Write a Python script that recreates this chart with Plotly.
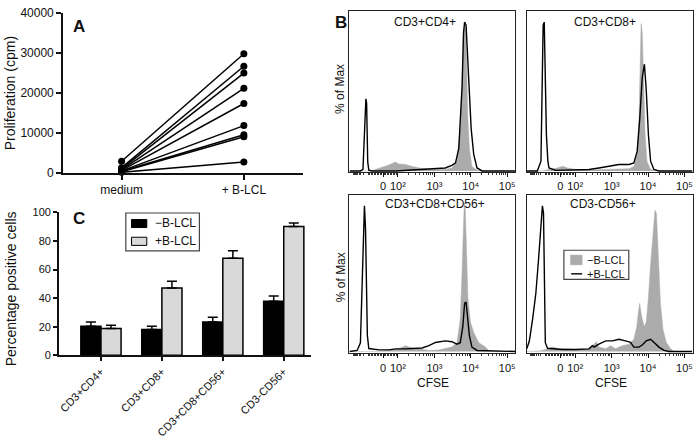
import math
import plotly.graph_objects as go

W, H = 697, 439
FONT = "Liberation Sans, Arial, Helvetica, sans-serif"

# ---------------- Panel A data ----------------
a_groups = ["medium", "+ B-LCL"]
a_medium = [2900, 1300, 1000, 800, 650, 500, 400, 300, 150]
a_blcl = [29700, 26600, 24900, 21100, 17300, 11800, 9500, 9000, 2700]
a_yticks = [0, 10000, 20000, 30000, 40000]

# ---------------- Panel C data ----------------
c_categories = ["CD3+CD4+", "CD3+CD8+", "CD3+CD8+CD56+", "CD3-CD56+"]
c_minus = [20.4, 18.1, 23.3, 37.8]
c_minus_err = [2.9, 2.3, 3.4, 3.8]
c_plus = [18.8, 47.1, 67.9, 90.1]
c_plus_err = [2.2, 4.7, 5.2, 2.4]
c_yticks = [0, 20, 40, 60, 80, 100]

# ---------------- Panel B data (x in logicle display decades, y in % of max) ----------------
hist_titles = ["CD3+CD4+", "CD3+CD8+", "CD3+CD8+CD56+", "CD3-CD56+"]
hist_tickvals = [1.59, 2, 3, 4, 5]
hist_ticktext = ["0", "10\u00b2", "10\u00b3", "10\u2074", "10\u2075"]

cd4_minus_x = [0.67, 1.25, 1.38, 1.57, 1.75, 1.93, 2.02, 2.21, 2.39, 2.66, 2.94, 3.30, 3.48, 3.62, 3.71, 3.76, 3.80, 3.83, 3.86, 3.89, 3.91, 3.96, 4.03, 4.17, 4.31, 5.22]
cd4_minus_y = [0, 0, 1, 2.6, 3.9, 6, 4.7, 4.3, 3, 1.7, 1, 1, 2, 6.5, 28, 56, 92, 97, 94, 67, 39, 15, 3, 0.4, 0, 0]
cd4_plus_x = [0.67, 0.97, 1.04, 1.07, 1.10, 1.12, 1.14, 1.16, 1.17, 1.20, 1.29, 1.48, 1.93, 2.39, 2.85, 3.12, 3.30, 3.48, 3.58, 3.67, 3.71, 3.76, 3.80, 3.83, 3.87, 3.90, 3.96, 4.01, 4.08, 4.17, 4.31, 5.22]
cd4_plus_y = [0, 0, 1, 19, 39, 48, 45, 24, 6, 0.5, 0, 0, 0, 0.6, 1.5, 2, 2, 3.7, 5.4, 15, 30, 56, 92, 99, 97, 84, 56, 28, 11, 2, 0, 0]

cd8_minus_x = [0.67, 1.10, 1.28, 1.47, 1.65, 1.79, 2.02, 2.38, 2.84, 3.11, 3.48, 3.61, 3.70, 3.75, 3.79, 3.81, 3.84, 3.88, 3.92, 3.97, 4.07, 4.21, 5.22]
cd8_minus_y = [0, 0, 1, 1.7, 3.2, 2, 1, 0.6, 1, 1, 1.5, 3, 11, 34, 77, 98, 92, 56, 24, 6.5, 1, 0, 0]
cd8_plus_x = [0.67, 0.96, 1.06, 1.08, 1.12, 1.15, 1.17, 1.21, 1.25, 1.28, 1.47, 1.92, 2.38, 2.65, 2.93, 3.20, 3.48, 3.61, 3.70, 3.77, 3.84, 3.90, 3.95, 4.01, 4.07, 4.16, 4.30, 5.22]
cd8_plus_y = [0, 0, 6.5, 45, 97, 99, 77, 24, 6.5, 2, 0.4, 0.6, 1, 2, 3.2, 4.3, 4.3, 5.4, 13, 34, 62, 71, 54, 24, 6.5, 1, 0, 0]

cd56t_minus_x = [0.67, 1.48, 1.75, 2.02, 2.21, 2.30, 2.57, 2.85, 3.12, 3.30, 3.48, 3.62, 3.71, 3.76, 3.80, 3.82, 3.85, 3.89, 3.92, 3.99, 4.08, 4.22, 4.40, 4.49, 4.58, 5.22]
cd56t_minus_y = [0, 0, 0.7, 1.8, 4, 3, 1.8, 0.7, 1, 1.8, 3, 6, 22, 55, 88, 102, 97, 66, 37, 20, 13, 6, 3, 0.7, 0, 0]
cd56t_plus_x = [0.67, 0.88, 0.97, 1.02, 1.06, 1.08, 1.11, 1.14, 1.16, 1.20, 1.29, 1.48, 1.75, 1.93, 2.21, 2.39, 2.66, 2.85, 3.03, 3.30, 3.48, 3.62, 3.71, 3.78, 3.83, 3.87, 3.90, 3.96, 4.03, 4.17, 5.22]
cd56t_plus_y = [0, 0.7, 6, 44, 88, 100, 84, 44, 11, 2, 1.8, 1.1, 1.1, 1.8, 1.8, 2.2, 2.4, 4, 6.2, 7.3, 6.7, 5, 6, 17, 33, 34, 26, 11, 3, 0.7, 0]

nk_minus_x = [0.67, 1.01, 1.19, 1.38, 1.56, 1.83, 2.11, 2.38, 2.52, 2.58, 2.65, 2.84, 2.97, 3.11, 3.29, 3.48, 3.61, 3.69, 3.73, 3.77, 3.81, 3.89, 3.95, 4.01, 4.07, 4.13, 4.19, 4.23, 4.28, 4.34, 4.41, 4.50, 4.62, 4.71, 5.21]
nk_minus_y = [0, 0.4, 1.3, 3, 1.8, 1.8, 1.1, 1.8, 5, 6.7, 3, 1.8, 4, 1.8, 4, 5, 8.4, 17, 26, 33, 26, 17, 20, 37, 60, 82, 97, 95, 66, 33, 15, 6.2, 1.8, 0, 0]
nk_plus_x = [0.67, 0.74, 0.83, 0.92, 0.99, 1.06, 1.10, 1.13, 1.16, 1.18, 1.24, 1.38, 1.65, 2.02, 2.38, 2.47, 2.52, 2.65, 2.84, 3.02, 3.20, 3.38, 3.52, 3.61, 3.75, 3.84, 3.95, 4.07, 4.16, 4.30, 4.44, 4.57, 5.21]
nk_plus_y = [1.8, 7, 22, 40, 62, 84, 100, 95, 44, 6, 2.2, 1.8, 1.3, 1.3, 1.8, 4, 3, 5, 7.3, 7.3, 8.4, 7.3, 6.2, 3, 3, 4.4, 7.3, 8.4, 6.2, 3, 0.7, 0, 0]

hist_minus = [(cd4_minus_x, cd4_minus_y), (cd8_minus_x, cd8_minus_y),
              (cd56t_minus_x, cd56t_minus_y), (nk_minus_x, nk_minus_y)]
hist_plus = [(cd4_plus_x, cd4_plus_y), (cd8_plus_x, cd8_plus_y),
             (cd56t_plus_x, cd56t_plus_y), (nk_plus_x, nk_plus_y)]

legend_labels = ["\u2212B-LCL", "+B-LCL"]

# ---------------- helpers ----------------
def fx(px):
    return px / W

def fy(py):
    return 1 - py / H

GREY_BAR = "#d9d9d9"
GREY_HIST = "#ababab"
AX = "#111111"
TXT = "#111111"

fig = go.Figure()

# Panel A
for m, b in zip(a_medium, a_blcl):
    fig.add_trace(go.Scatter(
        x=a_groups, y=[m, b], mode="lines+markers", xaxis="x", yaxis="y",
        line=dict(color="black", width=1.5), marker=dict(color="black", size=7),
        cliponaxis=False, showlegend=False))

# Panel C
fig.add_trace(go.Bar(
    x=c_categories, y=c_minus, name=legend_labels[0], xaxis="x2", yaxis="y2",
    marker=dict(color="black", line=dict(color="black", width=1.5)),
    error_y=dict(type="data", array=c_minus_err, arrayminus=[0] * 4, symmetric=False,
                 color="black", thickness=1.5, width=5),
    showlegend=False))
fig.add_trace(go.Bar(
    x=c_categories, y=c_plus, name=legend_labels[1], xaxis="x2", yaxis="y2",
    marker=dict(color=GREY_BAR, line=dict(color="black", width=1.5)),
    error_y=dict(type="data", array=c_plus_err, arrayminus=[0] * 4, symmetric=False,
                 color="black", thickness=1.5, width=5),
    showlegend=False))

# Panel B histograms
for i in range(4):
    xa = "x%d" % (i + 3)
    ya = "y%d" % (i + 3)
    mx, my = hist_minus[i]
    px_, py_ = hist_plus[i]
    fig.add_trace(go.Scatter(
        x=mx, y=my, mode="lines", fill="tozeroy", fillcolor=GREY_HIST,
        line=dict(color=GREY_HIST, width=0.5), xaxis=xa, yaxis=ya,
        name=legend_labels[0], showlegend=False))
    fig.add_trace(go.Scatter(
        x=px_, y=py_, mode="lines", line=dict(color="black", width=1.4),
        xaxis=xa, yaxis=ya, name=legend_labels[1], showlegend=False))

# minor ticks for the logicle axis
minor_vals = []
for k in (2, 3, 4):
    for m in range(2, 10):
        minor_vals.append(k + math.log10(m))
for v in range(10, 100, 10):
    minor_vals.append(1.59 + v / 100 * 0.41)
    minor_vals.append(1.59 - v / 100 * 0.41)
for m in range(1, 11):
    minor_vals.append(1.18 - math.log10(m) * 0.41)

layout = dict(
    width=W, height=H, margin=dict(l=0, r=0, t=0, b=0),
    paper_bgcolor="white", plot_bgcolor="white",
    font=dict(family=FONT, color=TXT, size=12),
    showlegend=False, barmode="group", bargap=0.34, bargroupgap=0,
)

# Panel A axes
layout["xaxis"] = dict(domain=[fx(62), fx(302)], anchor="y", range=[-0.48, 1.48],
                       type="category", showline=True, linecolor=AX, linewidth=1.5,
                       ticks="outside", ticklen=5, tickwidth=1.5, tickcolor=AX,
                       showgrid=False, zeroline=False,
                       tickfont=dict(size=12, color=TXT, family=FONT))
layout["yaxis"] = dict(domain=[fy(172), fy(6.7)], anchor="x", range=[0, 40000],
                       tickvals=a_yticks, tickformat="d", showline=True, linecolor=AX,
                       linewidth=1.5, ticks="outside", ticklen=5, tickwidth=1.5, tickcolor=AX,
                       showgrid=False, zeroline=False,
                       tickfont=dict(size=12, color=TXT, family=FONT))
# Panel C axes
layout["xaxis2"] = dict(domain=[fx(58), fx(310)], anchor="y2", range=[-0.69, 3.44],
                        type="category", showline=True, linecolor=AX, linewidth=1.5,
                        ticks="outside", ticklen=4, tickwidth=1.5, tickcolor=AX,
                        tickangle=-45, showgrid=False, zeroline=False,
                        tickfont=dict(size=11, color=TXT, family=FONT))
layout["yaxis2"] = dict(domain=[fy(360), fy(212.7)], anchor="x2", range=[0, 100],
                        tickvals=c_yticks, showline=True, linecolor=AX, linewidth=1.5,
                        ticks="outside", ticklen=4, tickwidth=1.5, tickcolor=AX,
                        showgrid=False, zeroline=False,
                        tickfont=dict(size=11, color=TXT, family=FONT))

# Panel B axes
boxes = [((349, 515), (171, 5), (-0.65, 106.5)),
         ((526.5, 692.5), (171, 5), (-0.65, 106.5)),
         ((349, 515), (358, 195), (-1.33, 107.3)),
         ((526.5, 692.5), (358, 195), (-1.33, 107.3))]
for i, ((x0, x1), (yb, yt), yr) in enumerate(boxes):
    n = i + 3
    layout["xaxis%d" % n] = dict(
        domain=[fx(x0), fx(x1)], anchor="y%d" % n, range=[0.67, 5.22],
        tickvals=hist_tickvals, ticktext=hist_ticktext, ticks="outside", ticklen=4,
        tickwidth=1, tickcolor=AX, showline=True, linecolor="#222222", linewidth=1.2,
        mirror=True, showgrid=False, zeroline=False,
        tickfont=dict(size=11, color=TXT, family=FONT),
        minor=dict(tickmode="array", tickvals=minor_vals, ticks="outside", ticklen=2,
                   tickwidth=0.8, tickcolor="#333333", showgrid=False))
    layout["yaxis%d" % n] = dict(
        domain=[fy(yb), fy(yt)], anchor="x%d" % n, range=list(yr),
        showticklabels=False, ticks="", showline=True, linecolor="#222222",
        linewidth=1.2, mirror=True, showgrid=False, zeroline=False)

annotations = []

def ann(text, px, py, size=12, bold=False, angle=0, xanchor="center", yanchor="middle"):
    annotations.append(dict(
        text=("<b>%s</b>" % text) if bold else text, x=fx(px), y=fy(py),
        xref="paper", yref="paper", showarrow=False, textangle=angle,
        xanchor=xanchor, yanchor=yanchor, font=dict(size=size, family=FONT, color=TXT)))

ann("A", 78, 21, size=17, bold=True)
ann("B", 340, 17, size=17, bold=True)
ann("C", 78, 219, size=17, bold=True)
ann("Proliferation (cpm)", 9, 90, size=14, angle=-90)
ann("Percentage positive cells", 10, 291, size=14, angle=-90)
ann("% of Max", 340, 86, size=12, angle=-90)
ann("% of Max", 340, 280, size=12, angle=-90)
ann("CFSE", 433, 388, size=12)
ann("CFSE", 611, 388, size=12)
ann(hist_titles[0], 425, 17, size=12)
ann(hist_titles[1], 605, 17, size=12)
ann(hist_titles[2], 435, 204, size=12)
ann(hist_titles[3], 603, 204, size=12)

# Legend C
ann(legend_labels[0], 152.5, 224, size=12, xanchor="left")
ann(legend_labels[1], 152.5, 242.5, size=12, xanchor="left")
# Legend B
ann(legend_labels[0], 585, 262, size=11, xanchor="left")
ann(legend_labels[1], 585, 276, size=11, xanchor="left")

shapes = []

def rect(x0, y0, x1, y1, fill, line_color, lw):
    shapes.append(dict(type="rect", xref="paper", yref="paper",
                       x0=fx(x0), x1=fx(x1), y0=fy(y1), y1=fy(y0),
                       fillcolor=fill, line=dict(color=line_color, width=lw)))

rect(125, 213.3, 198.7, 252.3, "white", "#444444", 1.2)
rect(130.7, 220, 146, 228.3, "black", "black", 1)
rect(130.7, 238.3, 146, 246.7, GREY_BAR, "black", 1)

rect(563.7, 251.7, 628.7, 281.7, "white", "#444444", 1.2)
rect(570.3, 256.7, 582, 266.7, GREY_HIST, GREY_HIST, 0.5)
shapes.append(dict(type="line", xref="paper", yref="paper", x0=fx(571), x1=fx(582),
                   y0=fy(276), y1=fy(276), line=dict(color="black", width=1.4)))

layout["annotations"] = annotations
layout["shapes"] = shapes
fig.update_layout(**layout)
fig.write_html("out.html", config={"displayModeBar": False},
               post_script="document.body.style.margin='0px';")
